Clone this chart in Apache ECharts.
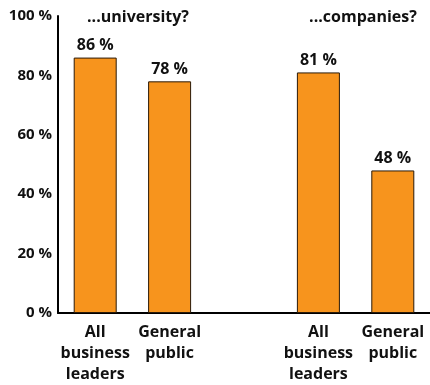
<!DOCTYPE html>
<html>
<head>
<meta charset="utf-8">
<script src="https://cdn.jsdelivr.net/npm/echarts@6/dist/echarts.min.js"></script>
<style>
  html, body { margin: 0; padding: 0; background: #fff; }
  #chart { width: 430px; height: 385px; }
</style>
</head>
<body>
<div id="chart"></div>
<script>
// Survey answers: share who trust the university / companies
const groupTitles = ['...university?', '...companies?'];
const categories = ['All\nbusiness\nleaders', 'General\npublic', '', 'All\nbusiness\nleaders', 'General\npublic'];
const values = [86, 78, null, 81, 48];
const yTicks = [0, 20, 40, 60, 80, 100];

const FONT = '"Open Sans", "Noto Sans", sans-serif';
const INK = '#111';
const chart = echarts.init(document.getElementById('chart'));

const gridLeft = 58, gridWidth = 375;
const slot = gridWidth / categories.length;

chart.setOption({
  animation: false,
  title: [
    { text: groupTitles[0], left: gridLeft + slot * 1, top: 4, textAlign: 'center',
      textStyle: { fontFamily: FONT, fontWeight: 'bold', fontSize: 16, color: INK } },
    { text: groupTitles[1], left: gridLeft + slot * 4, top: 4, textAlign: 'center',
      textStyle: { fontFamily: FONT, fontWeight: 'bold', fontSize: 16, color: INK } }
  ],
  grid: { left: gridLeft, top: 16, width: gridWidth, height: 300, containLabel: false },
  xAxis: {
    type: 'category',
    data: categories,
    axisLine: { lineStyle: { color: '#000', width: 2 } },
    axisTick: { show: false },
    axisLabel: {
      interval: 0, margin: 9,
      fontFamily: FONT, fontWeight: 'bold', fontSize: 16, lineHeight: 21, color: INK
    }
  },
  yAxis: {
    type: 'value',
    min: yTicks[0], max: yTicks[yTicks.length - 1], interval: 20,
    axisLine: { show: true, lineStyle: { color: '#000', width: 2 } },
    axisTick: { show: false },
    splitLine: { show: false },
    axisLabel: {
      margin: 6,
      formatter: v => v + ' %',
      fontFamily: FONT, fontWeight: 'bold', fontSize: 15, color: INK
    }
  },
  series: [{
    type: 'bar',
    data: values,
    barWidth: 43,
    itemStyle: { color: '#F7941D', borderColor: '#2b1a08', borderWidth: 1 },
    label: {
      show: true, position: 'top', distance: 4,
      formatter: p => p.value + ' %',
      fontFamily: FONT, fontWeight: 'bold', fontSize: 16, color: INK
    }
  }]
});
</script>
</body>
</html>
